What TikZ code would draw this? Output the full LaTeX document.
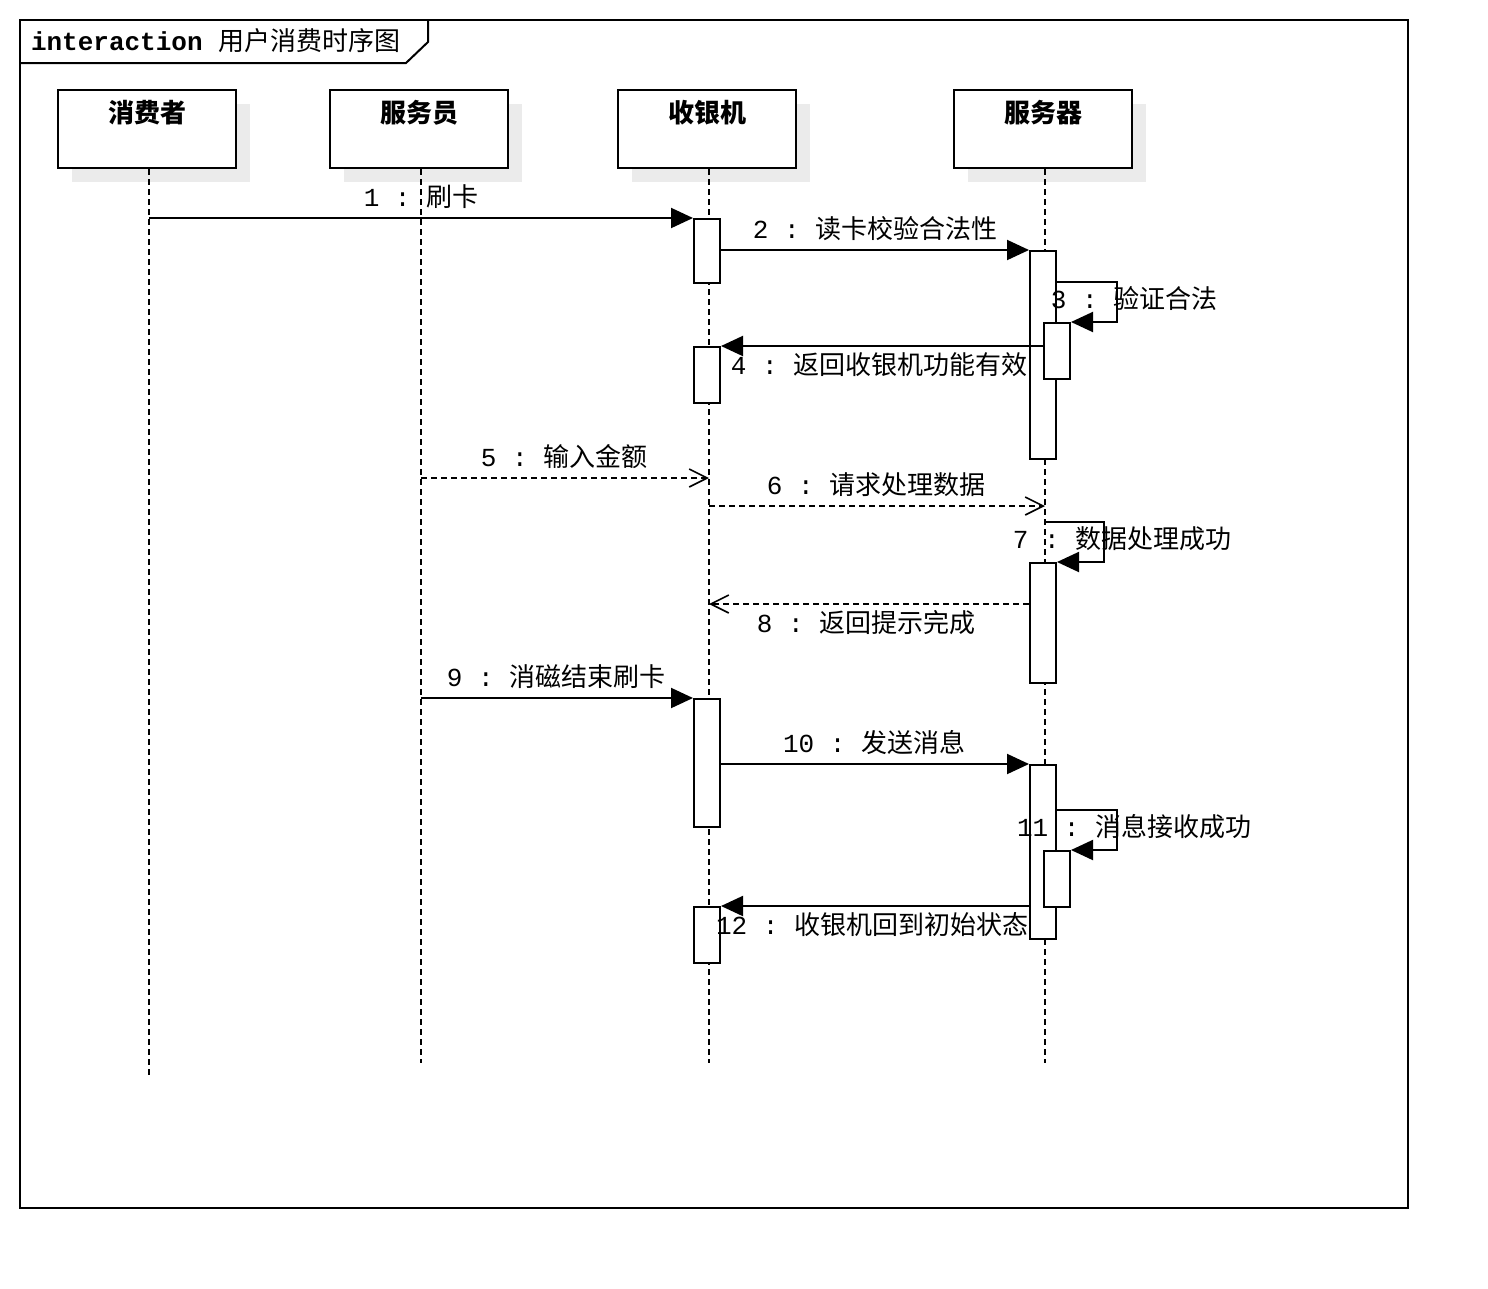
\documentclass[tikz,border=0pt]{standalone}
\usepackage{fontspec}
\setmonofont{Liberation Mono}
\newfontfamily\cjk{Noto Sans CJK SC}
\usepackage{tikz}
\usetikzlibrary{arrows.meta,positioning}

\newcommand\msgtxt[2]{\ttfamily #1 : \cjk #2}

\begin{document}
\begin{tikzpicture}[
    x=1pt, y=-1pt,
    font=\fontsize{26}{30}\selectfont,
    line width=2pt,
    head/.style={
		rectangle,
		draw=black,
		fill=white,
		inner sep=0pt,
		minimum width=178pt,
		text height=32pt,
		text depth=46pt,
		font=\fontsize{26}{30}\selectfont\cjk\bfseries
	},
	shade/.style={
		fill=black!8,
		draw=none
	},
	life/.style={
		dash pattern=on 6pt off 4pt
	},
	act/.style={
		rectangle,
		draw=black,
		fill=white,
		inner sep=0pt,
		minimum width=26pt,
		anchor=north
	},
	call/.style={
		-{Triangle[length=22pt,width=20pt]}
	},
	reply/.style={
		dash pattern=on 6pt off 4pt,
		-{Straight Barb[length=18pt,width=18pt,line width=1.6pt]}
	},
	msg/.style={
		inner sep=2pt
	}
  ]
  \useasboundingbox (0,0) rectangle (1488,1288);

  % the frame and its tab
  \draw (20,20) rectangle (1408,1208);
  \draw (20,63) -- (406,63) -- (428,42) -- (428,20);
  \node [anchor=west, inner sep=0pt] (title) at (30,41)
    {{\ttfamily\bfseries interaction }\cjk 用户消费时序图};

  % shadows behind the heads
  \fill [shade] (72,104) rectangle ++(178,78);
  \fill [shade] (344,104) rectangle ++(178,78);
  \fill [shade] (632,104) rectangle ++(178,78);
  \fill [shade] (968,104) rectangle ++(178,78);

  % the lifeline heads
  \node [head] (consumer) at (147,129) {消费者};
  \node [head] (clerk) at (419,129) {服务员};
  \node [head] (cashier) at (707,129) {收银机};
  \node [head] (server) at (1043,129) {服务器};

  \coordinate (consumerEnd) at (149,1076);
  \coordinate (clerkEnd) at (421,1063);
  \coordinate (cashierEnd) at (709,1063);
  \coordinate (serverEnd) at (1045,1063);

  \draw [life] (consumer.south -| consumerEnd) -- (consumerEnd);
  \draw [life] (clerk.south -| clerkEnd) -- (clerkEnd);
  \draw [life] (cashier.south -| cashierEnd) -- (cashierEnd);
  \draw [life] (server.south -| serverEnd) -- (serverEnd);

  % activation bars
  \node [act, minimum height=64pt] (act1) at (707,218) {};
  \node [act, minimum height=208pt] (srv1) at (1043,250) {};
  \node [act, minimum height=56pt] (srv2) at (1057,322) {};
  \node [act, minimum height=56pt] (act2) at (707,346) {};
  \node [act, minimum height=120pt] (srv3) at (1043,562) {};
  \node [act, minimum height=128pt] (act3) at (707,698) {};
  \node [act, minimum height=174pt] (srv4) at (1043,764) {};
  \node [act, minimum height=56pt] (srv5) at (1057,850) {};
  \node [act, minimum height=56pt] (act4) at (707,906) {};

  % messages
  \draw [call] (consumerEnd |- act1.north west) -- (act1.north west);
  \node [msg, anchor=base] (m1) at (421,206) {\msgtxt{1}{刷卡}};

  \draw [call] (act1.east |- srv1.north west) -- (srv1.north west);
  \node [msg, anchor=base] (m2) at (875,238) {\msgtxt{2}{读卡校验合法性}};

  \draw [call] (srv1.east |- 0,282) -- ++(60,0) |- (srv2.north east);
  \node [msg, anchor=base] (m3) at (1134,308) {\msgtxt{3}{验证合法}};

  \draw [call] (srv2.west |- act2.north east) -- (act2.north east);
  \node [msg, anchor=base] (m4) at (879,374) {\msgtxt{4}{返回收银机功能有效}};

  \draw [reply] (clerkEnd |- 0,478) -- (cashierEnd |- 0,478);
  \node [msg, anchor=base] (m5) at (564,466) {\msgtxt{5}{输入金额}};

  \draw [reply] (cashierEnd |- 0,506) -- (serverEnd |- 0,506);
  \node [msg, anchor=base] (m6) at (876,494) {\msgtxt{6}{请求处理数据}};

  \draw [call] (serverEnd |- 0,522) -- ++(59,0) |- (srv3.north east);
  \node [msg, anchor=base] (m7) at (1122,548) {\msgtxt{7}{数据处理成功}};

  \draw [reply] (srv3.west |- 0,604) -- (cashierEnd |- 0,604);
  \node [msg, anchor=base] (m8) at (866,632) {\msgtxt{8}{返回提示完成}};

  \draw [call] (clerkEnd |- act3.north west) -- (act3.north west);
  \node [msg, anchor=base] (m9) at (556,686) {\msgtxt{9}{消磁结束刷卡}};

  \draw [call] (act3.east |- srv4.north west) -- (srv4.north west);
  \node [msg, anchor=base] (m10) at (874,752) {\msgtxt{10}{发送消息}};

  \draw [call] (srv4.east |- 0,810) -- ++(60,0) |- (srv5.north east);
  \node [msg, anchor=base] (m11) at (1134,836) {\msgtxt{11}{消息接收成功}};

  \draw [call] (srv4.west |- act4.north east) -- (act4.north east);
  \node [msg, anchor=base] (m12) at (872,934) {\msgtxt{12}{收银机回到初始状态}};

\end{tikzpicture}
\end{document}
